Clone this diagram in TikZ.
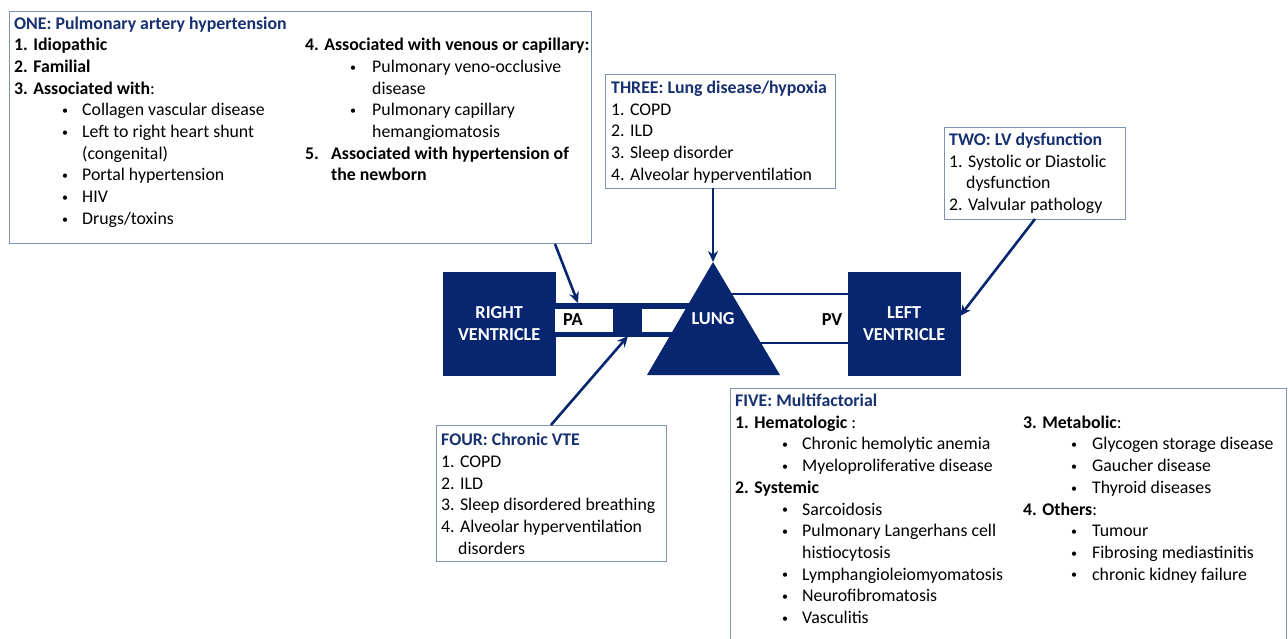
\documentclass[tikz,border=0pt]{standalone}
\usepackage{fontspec}
\setmainfont{Carlito}
\usetikzlibrary{arrows.meta}
\definecolor{navy}{RGB}{8,38,112}
\definecolor{ttl}{RGB}{22,48,112}
\definecolor{boxc}{RGB}{128,146,178}
\newcommand{\smbul}{\raisebox{1.2pt}{\fontsize{12}{12}\selectfont\textbullet}}
\newcommand{\bi}[3]{\hspace*{#1}\makebox[\dimexpr#2-#1\relax][l]{\smbul}#3}
\begin{document}
\begin{tikzpicture}[x=1pt,y=-1pt,
  box/.style={draw=boxc, line width=1.1pt, fill=white, inner sep=0pt, anchor=north west},
  txt/.style={anchor=base west, inner sep=0pt, font=\fontsize{17.8}{21.7}\selectfont},
  shp/.style={fill=navy, draw=navy, inner sep=0pt, anchor=north west},
  wtxt/.style={text=white, font=\fontsize{18.3}{22}\selectfont\bfseries, align=center, inner sep=0pt},
  btxt/.style={text=black, font=\fontsize{18.3}{22}\selectfont\bfseries, inner sep=0pt},
  arr/.style={draw=navy, line width=2.6pt, -{Stealth[length=11pt,width=10pt]}},
  pv/.style={draw=navy, line width=2pt}]
\useasboundingbox (0,0) rectangle (1288,638);
\clip (0,0) rectangle (1288,638);

% ---------- boxes ----------
\node[box, minimum width=582pt, minimum height=232pt] (one) at (9,11) {};
\node[box, minimum width=230pt, minimum height=114pt] (three) at (605,74) {};
\node[box, minimum width=181pt, minimum height=92pt] (two) at (944,127) {};
\node[box, minimum width=230pt, minimum height=136pt] (four) at (436,425) {};
\node[box, minimum width=556pt, minimum height=270pt] (five) at (730,388) {};

% ---------- box texts ----------
\node[txt] (onea) at (14,29) {\parbox[t]{290pt}{%
\textcolor{ttl}{\textbf{ONE: Pulmonary artery hypertension}}\\
\textbf{1. Idiopathic}\\
\textbf{2. Familial}\\
\textbf{3. Associated with}:\\
\bi{48pt}{68pt}{Collagen vascular disease}\\
\bi{48pt}{68pt}{Left to right heart shunt}\\
\hspace*{68pt}(congenital)\\
\bi{48pt}{68pt}{Portal hypertension}\\
\bi{48pt}{68pt}{HIV}\\
\bi{48pt}{68pt}{Drugs/toxins}}};

\node[txt] (oneb) at (305,50.7) {\parbox[t]{300pt}{%
\textbf{4. Associated with venous or capillary:}\\
\bi{45pt}{67pt}{Pulmonary veno-occlusive}\\
\hspace*{67pt}disease\\
\bi{45pt}{67pt}{Pulmonary capillary}\\
\hspace*{67pt}hemangiomatosis\\
\makebox[26pt][l]{\textbf{5.}}\textbf{Associated with hypertension of}\\
\hspace*{26pt}\textbf{the newborn}}};

\node[txt] (threet) at (611,93.5) {\parbox[t]{230pt}{%
\textcolor{ttl}{\textbf{THREE: Lung disease/hypoxia}}\\
1. COPD\\
2. ILD\\
3. Sleep disorder\\
4. Alveolar hyperventilation}};

\node[txt] (twot) at (949,145.5) {\parbox[t]{180pt}{%
\textcolor{ttl}{\textbf{TWO: LV dysfunction}}\\
1. Systolic or Diastolic\\
\hspace*{17pt}dysfunction\\
2. Valvular pathology}};

\node[txt] (fourt) at (441,445.6) {\parbox[t]{230pt}{%
\textcolor{ttl}{\textbf{FOUR: Chronic VTE}}\\
1. COPD\\
2. ILD\\
3. Sleep disordered breathing\\
4. Alveolar hyperventilation\\
\hspace*{17pt}disorders}};

\node[txt] (fivea) at (735,406.5) {\parbox[t]{290pt}{%
\textcolor{ttl}{\textbf{FIVE: Multifactorial}}\\
\textbf{1. Hematologic} :\\
\bi{47pt}{67pt}{Chronic hemolytic anemia}\\
\bi{47pt}{67pt}{Myeloproliferative disease}\\
\textbf{2. Systemic}\\
\bi{47pt}{67pt}{Sarcoidosis}\\
\bi{47pt}{67pt}{Pulmonary Langerhans cell}\\
\hspace*{67pt}histiocytosis\\
\bi{47pt}{67pt}{Lymphangioleiomyomatosis}\\
\bi{47pt}{67pt}{Neurofibromatosis}\\
\bi{47pt}{67pt}{Vasculitis}}};

\node[txt] (fiveb) at (1023,428.2) {\parbox[t]{260pt}{%
\textbf{3. Metabolic}:\\
\bi{48pt}{69pt}{Glycogen storage disease}\\
\bi{48pt}{69pt}{Gaucher disease}\\
\bi{48pt}{69pt}{Thyroid diseases}\\
\textbf{4. Others}:\\
\bi{48pt}{69pt}{Tumour}\\
\bi{48pt}{69pt}{Fibrosing mediastinitis}\\
\bi{48pt}{69pt}{chronic kidney failure}}};

% ---------- central shapes ----------
\node[shp, minimum width=112pt, minimum height=103pt] (rv) at (443,272) {};
\node[shp, minimum width=112pt, minimum height=103pt] (lv) at (848,272) {};
\node[wtxt] (rvt) at (rv.center) {RIGHT\\VENTRICLE};
\node[wtxt] (lvt) at (lv.center) {LEFT\\VENTRICLE};

% PA tube
\node[shp, minimum width=165pt, minimum height=33pt] (tube) at (555,303) {};
\node[fill=white, inner sep=0pt, anchor=north west, minimum width=58pt, minimum height=23pt] (paw) at (555,308.5) {};
\node[fill=white, inner sep=0pt, anchor=north west, minimum width=58pt, minimum height=23pt] (paw2) at (642,308.5) {};
\node[btxt] (pa) at (573,320) {PA};

% PV lines
\coordinate (pvt1) at (725,294);
\coordinate (pvb1) at (755,343);
\draw[pv] (pvt1) -- (pvt1 -| lv.west);
\draw[pv] (pvb1) -- (pvb1 -| lv.west);
\node[btxt] (pvl) at (832,320) {PV};

% Lung triangle
\coordinate (apex) at (713,262);
\coordinate (bl) at (647,375);
\coordinate (br) at (780,375);
\fill[navy] (apex) -- (bl) -- (br) -- cycle;
\node[wtxt] (lung) at (713,319) {LUNG};

% ---------- arrows ----------
\coordinate (a1s) at (555,244);
\coordinate (a1e) at (578,303);
\coordinate (a2s) at (713,188);
\coordinate (a3s) at (1035,219);
\coordinate (a3e) at (960,316);
\coordinate (a4s) at (551,425);
\coordinate (a4e) at (628,336);
\draw[arr] (a1s) -- (a1e);
\draw[arr] (a2s) -- (apex);
\draw[arr] (a3s) -- (a3e);
\draw[arr] (a4s) -- (a4e);
\end{tikzpicture}
\end{document}
